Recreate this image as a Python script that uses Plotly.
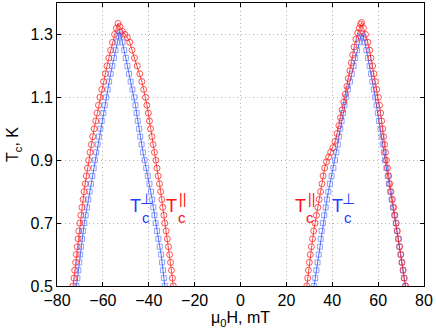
import plotly.graph_objects as go

# left peak (negative field), red = T_c parallel
red_neg_H = [-73.0, -72.6, -72.3, -71.9, -71.6, -71.2, -70.8, -70.5, -70.1, -69.6, -69.1, -68.6,
             -68.2, -67.7, -67.2, -66.7, -66.2, -65.6, -65.0, -64.4, -63.8, -63.1, -62.5, -61.9,
             -61.3, -60.5, -59.7, -58.9, -58.2, -57.4, -56.6, -55.8, -54.9, -54.1, -53.4,
             -52.6, -51.5, -50.4, -49.3, -48.3, -47.3, -46.2, -45.0, -43.9, -43.0, -42.2, -41.4,
             -40.8, -40.2, -39.7, -39.2, -38.6, -38.1, -37.5, -36.9, -36.4, -35.9, -35.3, -34.8,
             -34.3, -33.9, -33.4, -33.0, -32.4, -31.9, -31.4, -30.9, -30.5, -30.1, -29.7, -29.3]
red_neg_T = [0.500, 0.525, 0.550, 0.575, 0.600, 0.625, 0.650, 0.675, 0.700, 0.725, 0.750, 0.775,
             0.800, 0.825, 0.850, 0.875, 0.900, 0.925, 0.950, 0.975, 1.000, 1.025, 1.050, 1.075,
             1.100, 1.125, 1.150, 1.175, 1.200, 1.225, 1.250, 1.275, 1.300, 1.320, 1.335,
             1.325, 1.310, 1.300, 1.290, 1.275, 1.250, 1.225, 1.200, 1.175, 1.150, 1.125, 1.100,
             1.075, 1.050, 1.025, 1.000, 0.975, 0.950, 0.925, 0.900, 0.875, 0.850, 0.825, 0.800,
             0.775, 0.750, 0.725, 0.700, 0.675, 0.650, 0.625, 0.600, 0.575, 0.550, 0.525, 0.500]

# left peak, blue = T_c perpendicular
blue_neg_H = [-71.5, -71.1, -70.7, -70.3, -69.9, -69.5, -69.1, -68.6, -68.1, -67.5, -66.9, -66.4,
              -65.8, -65.2, -64.6, -64.0, -63.5, -62.9, -62.3, -61.7, -61.1, -60.5, -59.8, -59.2,
              -58.6, -57.9, -57.3, -56.6, -55.9, -55.2, -54.5, -53.8, -53.2, -52.7,
              -52.2, -51.4, -50.7, -50.0, -49.3, -48.6, -47.9, -47.1, -46.3, -45.8, -45.3, -44.8,
              -44.2, -43.7, -43.1, -42.5, -41.8, -41.1, -40.4, -39.7, -39.0, -38.5, -38.0, -37.5,
              -37.0, -36.4, -35.8, -35.2, -34.6, -34.2, -33.8, -33.4, -33.0]
blue_neg_T = [0.500, 0.525, 0.550, 0.575, 0.600, 0.625, 0.650, 0.675, 0.700, 0.725, 0.750, 0.775,
              0.800, 0.825, 0.850, 0.875, 0.900, 0.925, 0.950, 0.975, 1.000, 1.025, 1.050, 1.075,
              1.100, 1.125, 1.150, 1.175, 1.200, 1.225, 1.250, 1.275, 1.295, 1.307,
              1.300, 1.275, 1.250, 1.225, 1.200, 1.175, 1.150, 1.125, 1.100, 1.075, 1.050, 1.025,
              1.000, 0.975, 0.950, 0.925, 0.900, 0.875, 0.850, 0.825, 0.800, 0.775, 0.750, 0.725,
              0.700, 0.675, 0.650, 0.625, 0.600, 0.575, 0.550, 0.525, 0.500]

# right peak (positive field), red
red_pos_H = [28.9, 29.3, 29.6, 30.0, 30.4, 30.9, 31.4, 31.9, 32.5, 33.1, 33.7, 34.3,
             34.9, 35.5, 36.0, 36.7, 37.5, 38.4, 39.3, 40.3, 41.2, 42.1, 42.9, 43.6,
             44.3, 45.0, 45.7, 46.4, 47.0, 47.7, 48.3, 48.9, 49.5, 50.3, 51.1, 51.8, 52.4, 52.8,
             53.6, 54.5, 55.5, 56.3, 56.9, 57.6, 58.2, 58.8, 59.4, 60.1, 60.6, 61.1,
             61.5, 62.0, 62.4, 62.8, 63.2, 63.6, 64.1, 64.6, 65.1, 65.6, 66.2, 66.8,
             67.3, 67.9, 68.4, 68.9, 69.4, 69.9, 70.4, 70.9, 71.4, 72.0]
red_pos_T = [0.500, 0.525, 0.550, 0.575, 0.600, 0.625, 0.650, 0.675, 0.700, 0.725, 0.750, 0.775,
             0.800, 0.825, 0.850, 0.875, 0.895, 0.910, 0.925, 0.940, 0.960, 0.985, 1.010, 1.035,
             1.060, 1.085, 1.110, 1.135, 1.160, 1.185, 1.210, 1.235, 1.260, 1.285, 1.305, 1.320, 1.333, 1.338,
             1.320, 1.300, 1.275, 1.250, 1.225, 1.200, 1.175, 1.150, 1.125, 1.100, 1.075, 1.050,
             1.025, 1.000, 0.975, 0.950, 0.925, 0.900, 0.875, 0.850, 0.825, 0.800, 0.775, 0.750,
             0.725, 0.700, 0.675, 0.650, 0.625, 0.600, 0.575, 0.550, 0.525, 0.500]

# right peak, blue
blue_pos_H = [32.1, 32.6, 33.1, 33.6, 34.1, 34.6, 35.0, 35.4, 35.9, 36.5, 37.1, 37.7,
              38.3, 39.0, 39.7, 40.5, 41.2, 41.8, 42.4, 42.9, 43.5, 44.1, 44.7, 45.3,
              45.9, 46.8, 47.7, 48.5, 49.3, 50.0, 50.8, 51.7, 52.5, 52.9,
              53.6, 54.2, 54.9, 55.6, 56.3, 56.9, 57.5, 58.1, 58.7, 59.3, 59.9, 60.4,
              61.0, 61.5, 62.0, 62.5, 63.0, 63.6, 64.2, 64.7, 65.3, 65.9, 66.5, 67.1,
              67.7, 68.2, 68.8, 69.3, 69.8, 70.3, 70.8, 71.3, 71.8]
blue_pos_T = [0.500, 0.525, 0.550, 0.575, 0.600, 0.625, 0.650, 0.675, 0.700, 0.725, 0.750, 0.775,
              0.800, 0.825, 0.850, 0.875, 0.900, 0.925, 0.950, 0.975, 1.000, 1.025, 1.050, 1.075,
              1.100, 1.125, 1.150, 1.175, 1.200, 1.225, 1.250, 1.275, 1.295, 1.302,
              1.290, 1.275, 1.250, 1.225, 1.200, 1.175, 1.150, 1.125, 1.100, 1.075, 1.050, 1.025,
              1.000, 0.975, 0.950, 0.925, 0.900, 0.875, 0.850, 0.825, 0.800, 0.775, 0.750, 0.725,
              0.700, 0.675, 0.650, 0.625, 0.600, 0.575, 0.550, 0.525, 0.500]

x_ticks = [-80, -60, -40, -20, 0, 20, 40, 60, 80]
y_ticks = [0.5, 0.7, 0.9, 1.1, 1.3]

# label anchors (field position of the "T" letter), colour, superscript
label_H = [-45.6, -29.9, 26.1, 42.3]
label_T = 0.755
label_col = ["#2040ff", "#ff1010", "#ff1010", "#2040ff"]
label_sym = ["⊥", "||", "||", "⊥"]

RED = "#ff2020"
BLUE = "#2a48ff"
FONT = "Liberation Sans"

fig = go.Figure()
for H, T in [(blue_neg_H, blue_neg_T), (blue_pos_H, blue_pos_T)]:
    fig.add_trace(go.Scatter(x=H, y=T, mode="lines+markers",
                             line=dict(color=BLUE, width=0.8),
                             marker=dict(symbol="square-open", size=5, color="rgba(70,100,255,0.6)",
                                         line=dict(width=1))))
for H, T in [(red_neg_H, red_neg_T), (red_pos_H, red_pos_T)]:
    fig.add_trace(go.Scatter(x=H, y=T, mode="lines+markers",
                             line=dict(color=RED, width=0.8),
                             marker=dict(symbol="circle-open", size=6, color="rgba(255,30,30,0.85)",
                                         line=dict(width=0.9))))

for hx, col, sym in zip(label_H, label_col, label_sym):
    fig.add_annotation(x=hx, y=label_T, text="T", showarrow=False,
                       font=dict(size=18, color=col, family=FONT))
    fig.add_annotation(x=hx, y=label_T, text="c", showarrow=False, xshift=10, yshift=-12,
                       font=dict(size=15, color=col, family=FONT))
    fig.add_annotation(x=hx, y=label_T, text=sym, showarrow=False, xshift=11, yshift=7,
                       font=dict(size=15 if sym == "⊥" else 14, color=col, family=FONT))

axis_common = dict(showline=True, linecolor="black", linewidth=1, mirror="ticks",
                   ticks="inside", ticklen=4, tickcolor="black", automargin=False,
                   showgrid=True, gridcolor="#b4b4b4", griddash="1px,3px", gridwidth=1,
                   zeroline=False, tickfont=dict(size=16, color="black", family=FONT))

fig.update_xaxes(range=[-80, 80], tickvals=x_ticks,
                 ticktext=[str(v).replace("-", "\u2212") for v in x_ticks],
                 title=dict(text="μ<sub>0</sub>H, mT", standoff=1,
                            font=dict(size=16, color="black", family=FONT)),
                 **axis_common)
fig.update_yaxes(range=[0.5, 1.4], tickvals=y_ticks, ticktext=["%.1f" % v for v in y_ticks],
                 title=dict(text="T<sub>c</sub>, K", standoff=7,
                            font=dict(size=16, color="black", family=FONT)),
                 **axis_common)

fig.update_layout(width=436, height=332, showlegend=False,
                  margin=dict(l=57, r=12, t=3, b=46),
                  plot_bgcolor="white", paper_bgcolor="white")

# drop the browser's default 8px body margin so the figure sits at the window corner
fig.write_html("out.html", config={"displayModeBar": False},
               post_script="document.body.style.margin='0';")
